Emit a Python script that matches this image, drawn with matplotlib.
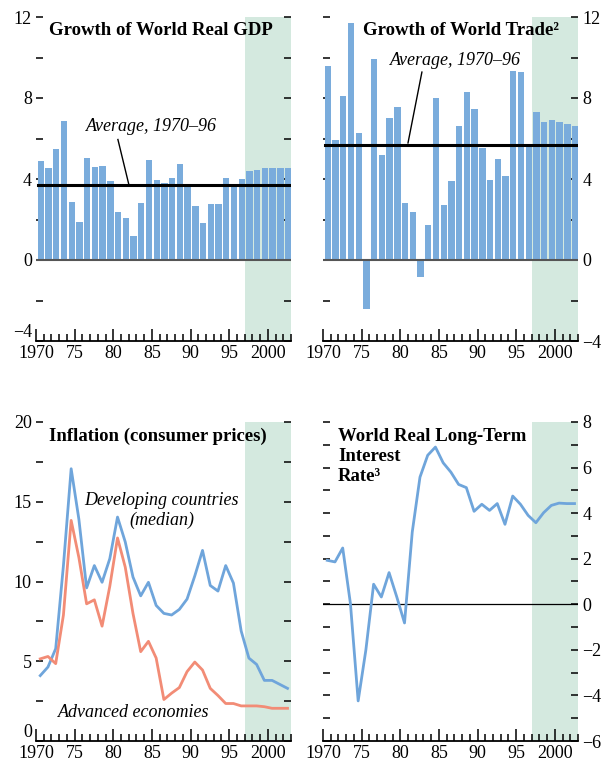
import matplotlib
matplotlib.use("Agg")
import matplotlib.pyplot as plt
import numpy as np
from matplotlib.ticker import MultipleLocator, FixedLocator

plt.rcParams['font.family'] = ['Liberation Serif', 'DejaVu Serif']
plt.rcParams['axes.unicode_minus'] = True

years = list(range(1970, 2003))

gdp = [4.9, 4.55, 5.5, 6.88, 2.88, 1.88, 5.04, 4.6, 4.64, 3.9, 2.36, 2.07, 1.17, 2.81,
       4.94, 3.95, 3.8, 4.05, 4.74, 3.72, 2.66, 1.82, 2.76, 2.76, 4.05, 3.7, 4.0,
       4.4, 4.45, 4.55, 4.55, 4.55, 4.55]
gdp_avg = 3.7

trade = [9.6, 5.93, 8.12, 11.69, 6.28, -2.43, 9.95, 5.19, 7.02, 7.57, 2.81, 2.36, -0.84,
         1.72, 8.02, 2.71, 3.9, 6.63, 8.31, 7.47, 5.54, 3.95, 4.99, 4.15, 9.31, 9.26,
         5.64, 7.32, 6.83, 6.93, 6.83, 6.73, 6.63]
trade_avg = 5.7

developing = [4.1, 4.64, 5.79, 11.0, 17.07, 13.9, 9.6, 11.0, 9.95, 11.43, 14.04, 12.48,
              10.28, 9.1, 9.95, 8.5, 8.0, 7.9, 8.25, 8.9, 10.35, 11.95, 9.75, 9.4,
              11.0, 9.9, 6.9, 5.2, 4.8, 3.8, 3.8, 3.55, 3.3]
advanced = [5.15, 5.3, 4.85, 7.9, 13.83, 11.5, 8.6, 8.85, 7.2, 9.7, 12.73, 10.9, 8.0,
            5.6, 6.25, 5.2, 2.6, 3.0, 3.35, 4.35, 4.95, 4.45, 3.3, 2.85, 2.35, 2.35,
            2.2, 2.2, 2.2, 2.15, 2.05, 2.05, 2.05]

interest = [1.93, 1.86, 2.47, 0.03, -4.24, -2.0, 0.88, 0.32, 1.39, 0.32, -0.82, 3.17,
            5.58, 6.54, 6.9, 6.21, 5.8, 5.26, 5.12, 4.08, 4.39, 4.12, 4.42, 3.51, 4.75,
            4.39, 3.9, 3.58, 4.02, 4.34, 4.44, 4.42, 4.42]

xtick_years = [1970, 1975, 1980, 1985, 1990, 1995, 2000]
xtick_labels = ['1970', '75', '80', '85', '90', '95', '2000']

BAR = '#7aacdc'
SHADE = '#d4e9df'
DEV = '#6fa5db'
ADV = '#f28c76'
FS = 13

W, H = 606, 769
fig = plt.figure(figsize=(W / 100, H / 100), dpi=100)

def ax_at(x0, y0, x1, y1):
    return fig.add_axes([x0 / W, 1 - y1 / H, (x1 - x0) / W, (y1 - y0) / H])

def style(ax, ylim, major, minor, right=False):
    ax.set_xlim(1970, 2003)
    ax.set_ylim(*ylim)
    ax.axvspan(1997, 2003, color=SHADE, lw=0, zorder=0)
    for s in ['top', 'left', 'right']:
        ax.spines[s].set_visible(False)
    ax.spines['bottom'].set_linewidth(1.3)
    ax.xaxis.set_major_locator(FixedLocator(xtick_years))
    ax.set_xticklabels(xtick_labels)
    ax.xaxis.set_minor_locator(MultipleLocator(1))
    ax.tick_params(axis='x', which='major', direction='in', length=9, width=1.1,
                   labelsize=FS, pad=3)
    ax.tick_params(axis='x', which='minor', direction='in', length=5, width=1.1)
    ax.yaxis.set_major_locator(FixedLocator(major))
    ax.yaxis.set_minor_locator(FixedLocator(minor))
    ax.tick_params(axis='y', which='both', direction='in', length=5, width=1.1,
                   left=True, right=True, labelleft=not right, labelright=right,
                   labelsize=FS, pad=3)
    ax.set_facecolor('none')
    if not right:
        # lift the lowest left label a little, as in the reference
        ax.yaxis.get_major_ticks()[0].label1.set_va('bottom')

# Top-left: GDP
ax1 = ax_at(36, 17, 291, 341)
style(ax1, (-4, 12), [-4, 0, 4, 8, 12], [-2, 2, 6, 10])
ax1.bar(np.array(years) + 0.62, gdp, width=0.82, color=BAR, zorder=2)
ax1.axhline(0, color='#555555', lw=1.5, zorder=3)
ax1.plot([1970.2, 2003], [gdp_avg, gdp_avg], color='black', lw=2.2, zorder=4)
ax1.text(0.051, 0.958, 'Growth of World Real GDP', transform=ax1.transAxes,
         fontsize=13.5, fontweight='bold', ha='left', va='center', zorder=5)
ax1.text(1984.9, 6.57, 'Average, 1970–96', fontsize=13, style='italic',
         ha='center', va='center', zorder=5)
ax1.plot([1980.6, 1982.0], [5.95, 3.75], color='black', lw=1.0, zorder=5)

# Top-right: Trade
ax2 = ax_at(323, 17, 578, 341)
style(ax2, (-4, 12), [-4, 0, 4, 8, 12], [-2, 2, 6, 10], right=True)
ax2.bar(np.array(years) + 0.62, trade, width=0.82, color=BAR, zorder=2)
ax2.axhline(0, color='#555555', lw=1.5, zorder=3)
ax2.plot([1970.2, 2003], [trade_avg, trade_avg], color='black', lw=2.2, zorder=4)
ax2.text(0.157, 0.958, 'Growth of World Trade²', transform=ax2.transAxes,
         fontsize=13.5, fontweight='bold', ha='left', va='center', zorder=5)
ax2.text(1987.1, 9.83, 'Average, 1970–96', fontsize=13, style='italic',
         ha='center', va='center', zorder=5)
ax2.plot([1982.8, 1981.0], [9.28, 5.78], color='black', lw=1.0, zorder=5)

# Bottom-left: Inflation
ax3 = ax_at(36, 422, 291, 741)
style(ax3, (0, 20), [0, 5, 10, 15, 20], [2.5, 7.5, 12.5, 17.5])
xs = np.array(years) + 0.55
ax3.plot(xs, developing, color=DEV, lw=2.0, zorder=3)
ax3.plot(xs, advanced, color=ADV, lw=2.0, zorder=3)
ax3.text(0.051, 0.956, 'Inflation (consumer prices)', transform=ax3.transAxes,
         fontsize=13.5, fontweight='bold', ha='left', va='center', zorder=5)
ax3.text(1986.2, 15.1, 'Developing countries', fontsize=13, style='italic',
         ha='center', va='center')
ax3.text(1986.3, 13.86, '(median)', fontsize=13, style='italic',
         ha='center', va='center')
ax3.text(1982.6, 1.76, 'Advanced economies', fontsize=13, style='italic',
         ha='center', va='center')

# Bottom-right: Interest rate
ax4 = ax_at(323, 422, 578, 741)
style(ax4, (-6, 8), [-6, -4, -2, 0, 2, 4, 6, 8], [-5, -3, -1, 1, 3, 5, 7], right=True)
ax4.axhline(0, color='black', lw=0.9, zorder=2)
ax4.plot(xs, interest, color=DEV, lw=2.0, zorder=3)
for txt, yy in [('World Real Long-Term', 437), ('Interest', 457), ('Rate³', 477)]:
    ax4.text((338 - 323) / 255, (741 - yy) / 319, txt, transform=ax4.transAxes,
             fontsize=13.5, fontweight='bold', ha='left', va='center', zorder=5)

fig.savefig('out.png', dpi=100)
